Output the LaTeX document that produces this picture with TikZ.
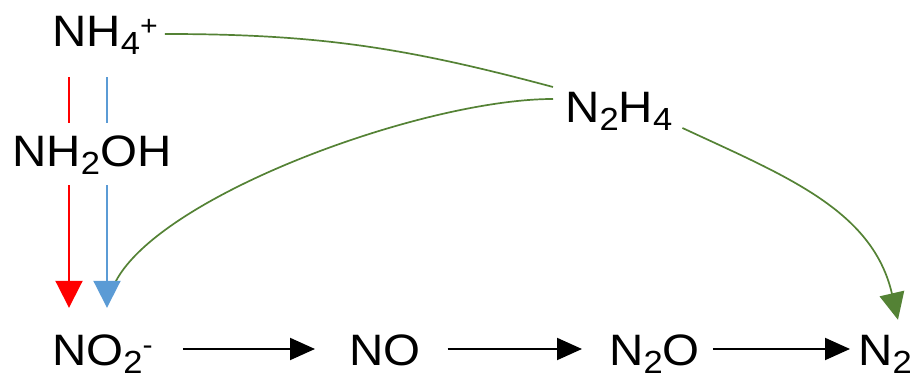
\documentclass[tikz,border=0pt]{standalone}
\usepackage{fontspec}
\setmainfont{Liberation Sans}
\usetikzlibrary{arrows.meta,calc}
\definecolor{myred}{RGB}{255,0,0}
\definecolor{myblue}{RGB}{91,155,213}
\definecolor{mygreen}{RGB}{84,130,53}
\newcommand\chsub[1]{\raisebox{-8pt}{\fontsize{32pt}{32pt}\selectfont #1}}
\newcommand\chsup[1]{\raisebox{11pt}{\fontsize{28pt}{28pt}\selectfont #1}}
\begin{document}
\begin{tikzpicture}[x=1pt,y=1pt,
  chem/.style={anchor=base west, inner sep=0pt, text height=32pt, text depth=10pt,
    font=\fontsize{44pt}{44pt}\selectfont},
  blk/.style={line width=2pt, -{Triangle[length=25pt,width=22pt]}},
  redl/.style={myred, line width=2pt},
  bluel/.style={myblue, line width=2pt},
  grn/.style={mygreen, line width=1.7pt}]
\useasboundingbox (0,0) rectangle (914,382);
% species
\node[chem] (nh4)   at (52,335)  {\scalebox{1.08}[1]{NH\chsub{4}\chsup{+}}};
\node[chem] (nh2oh) at (12,215)  {\scalebox{1.08}[1]{NH\chsub{2}OH}};
\node[chem] (n2h4)  at (565,259) {\scalebox{1.08}[1]{N\chsub{2}H\chsub{4}}};
\node[chem] (no2)   at (52,16)   {\scalebox{1.08}[1]{NO\chsub{2}\chsup{-}}};
\node[chem] (no)    at (349,16)  {\scalebox{1.08}[1]{NO}};
\node[chem] (n2o)   at (609,16)  {\scalebox{1.08}[1]{N\chsub{2}O}};
\node[chem] (n2)    at (858,16)  {\scalebox{1.08}[1]{N\chsub{2}}};
% vertical columns
\coordinate (rx) at (69,0);
\coordinate (bx) at (107,0);
% green curves
\draw[grn] ([shift={(7pt,2pt)}]nh4.east) to[out=0,in=165] ([shift={(-12pt,25pt)}]n2h4.west);
\draw[grn] ([shift={(-12pt,13pt)}]n2h4.west) to[out=180,in=70,out distance=133pt,in distance=95pt] ($(bx |- no2.north)+(5,44)$);
\draw[grn, -{Triangle[length=27pt,width=25pt]}] ([shift={(10pt,-16pt)}]n2h4.east) to[out=-25,in=103] ($(n2.north)+(13,14)$);
% red / blue
\draw[redl, shorten <=20pt, shorten >=12pt] (rx |- nh4.south) -- (rx |- nh2oh.north);
\draw[redl, shorten <=8pt, shorten >=26pt, -{Triangle[length=27pt,width=27pt]}] (rx |- nh2oh.south) -- (rx |- no2.north);
\draw[bluel, shorten <=20pt, shorten >=12pt] (bx |- nh4.south) -- (bx |- nh2oh.north);
\draw[bluel, shorten <=8pt, shorten >=26pt, -{Triangle[length=27pt,width=27pt]}] (bx |- nh2oh.south) -- (bx |- no2.north);
% black chain
\draw[blk, shorten <=30pt, shorten >=34pt] ([yshift=6pt]no2.east) -- ([yshift=6pt]no.west);
\draw[blk, shorten <=27pt, shorten >=27pt] ([yshift=6pt]no.east) -- ([yshift=6pt]n2o.west);
\draw[blk, shorten <=13pt, shorten >=8pt] ([yshift=6pt]n2o.east) -- ([yshift=6pt]n2.west);
\end{tikzpicture}
\end{document}
